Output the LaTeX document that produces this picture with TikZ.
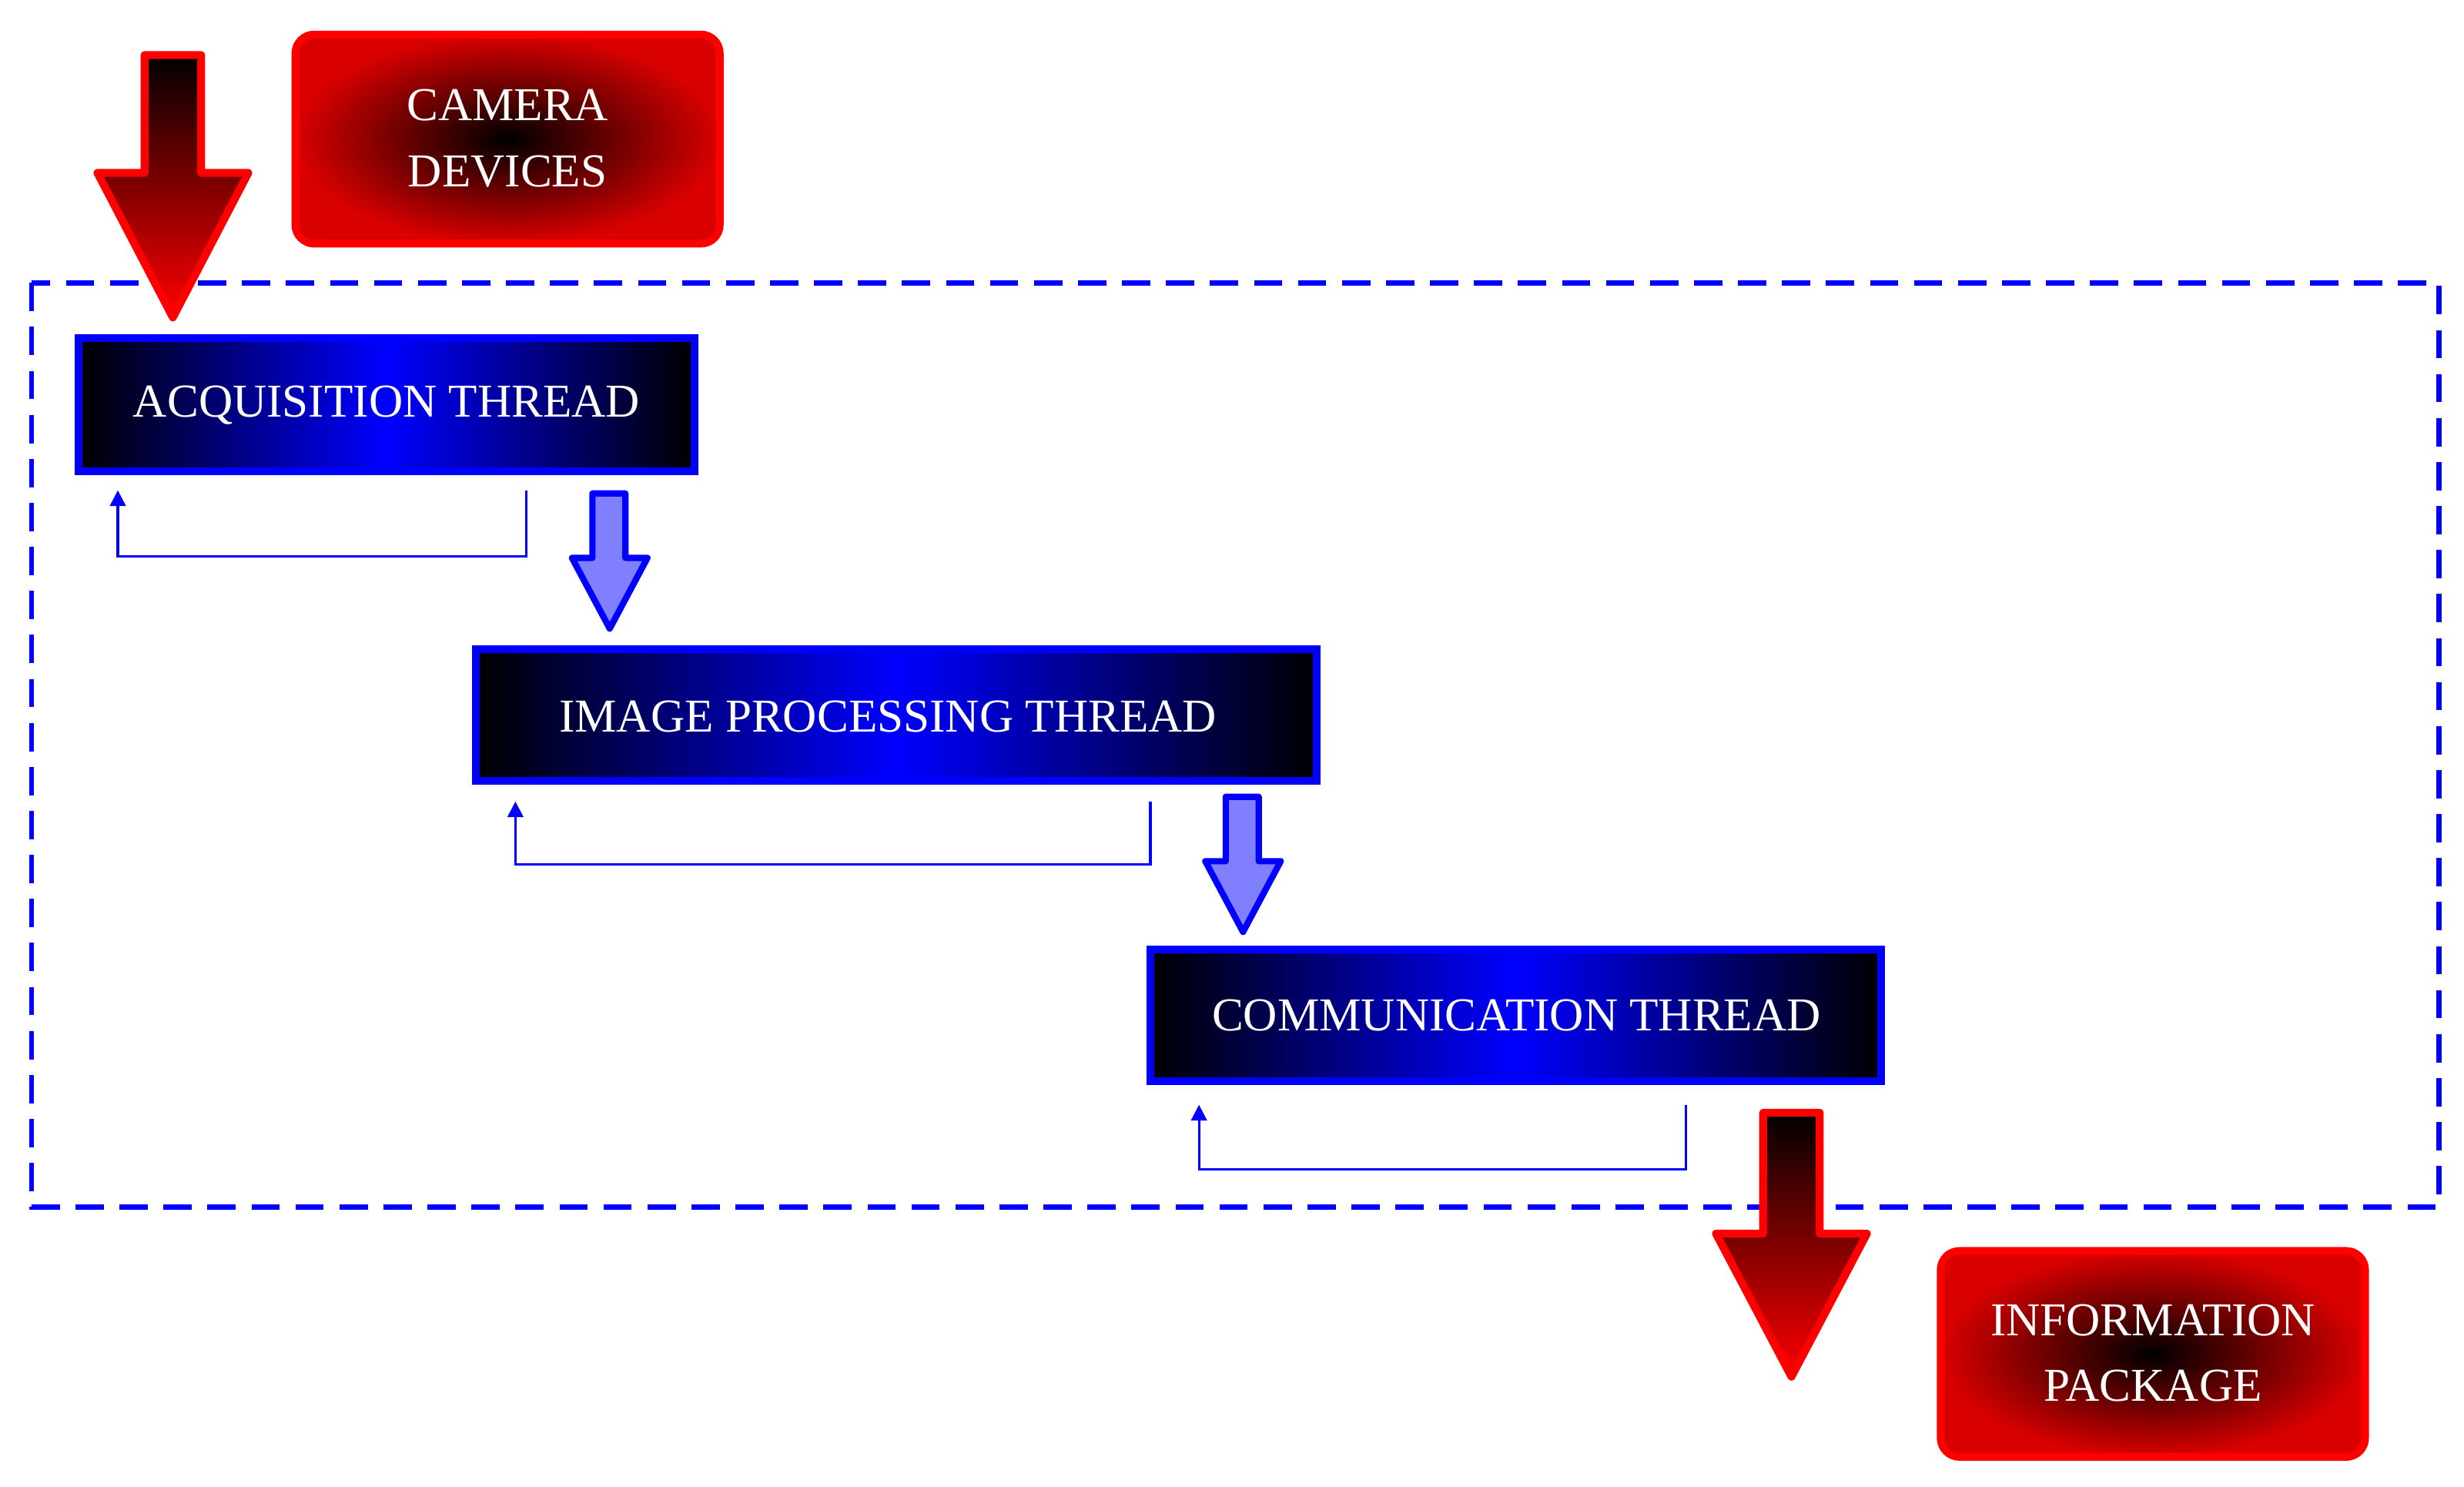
\documentclass[tikz,border=0pt]{standalone}
\usepackage{fontspec}
\setmainfont{Liberation Serif}
\usetikzlibrary{shadings,arrows.meta}
\begin{document}
\begin{tikzpicture}[x=0.5pt,y=-0.5pt,
  redbox/.style={draw=red,line width=2.5pt,rounded corners=6pt,inner color=black,outer color=red!85!black,text=white,align=center,font=\fontsize{15}{21}\selectfont},
  bluebox/.style={draw=blue,line width=2.5pt,left color=black,right color=black,middle color=blue,text=white,font=\fontsize{15}{18}\selectfont},
  fb/.style={draw=blue,line width=0.8pt,-{Triangle[length=5pt,width=5pt]}},
  bluearrow/.style={draw=blue,line width=2pt,fill=blue!50,line join=round},
  redarrow/.style={draw=red,line width=2.5pt,top color=black,bottom color=red,line join=round}]
\useasboundingbox (0,0) rectangle (1568,946);
\draw[blue,line width=1.6pt,dash pattern=on 9pt off 5pt] (20,180) rectangle (1552,768);
\path[redbox] (188,22) rectangle (458,155);
\node[text=white,align=center,font=\fontsize{15}{21}\selectfont] (cam) at (323,88) {CAMERA\\DEVICES};
\path[redbox] (1235,796) rectangle (1505,927);
\node[text=white,align=center,font=\fontsize{15}{21}\selectfont] (info) at (1370,861) {INFORMATION\\PACKAGE};
\path[bluebox] (50,215) rectangle (442,300);
\node[text=white,font=\fontsize{15}{18}\selectfont] (acq) at (246,258) {ACQUISITION THREAD};
\path[bluebox] (303,413) rectangle (838,497);
\node[text=white,font=\fontsize{15}{18}\selectfont] (img) at (565,456) {IMAGE PROCESSING THREAD};
\path[bluebox] (732,604) rectangle (1197,688);
\node[text=white,font=\fontsize{15}{18}\selectfont] (com) at (965,646) {COMMUNICATION THREAD};
\draw[fb] (335,312) -- (335,354) -- (75,354) -- (75,312);
\draw[fb] (732,510) -- (732,550) -- (328,550) -- (328,510);
\draw[fb] (1073,703) -- (1073,744) -- (763,744) -- (763,703);
\path[redarrow] (92,35) -- (128,35) -- (128,110) -- (158,110) -- (110,202) -- (62,110) -- (92,110) -- cycle;
\path[redarrow] (1122,708) -- (1158,708) -- (1158,785) -- (1188,785) -- (1140,876) -- (1092,785) -- (1122,785) -- cycle;
\path[bluearrow] (377,314) -- (398,314) -- (398,355) -- (412,355) -- (388,400) -- (364,355) -- (377,355) -- cycle;
\path[bluearrow] (780,507) -- (801,507) -- (801,548) -- (815,548) -- (791,593) -- (767,548) -- (780,548) -- cycle;
\end{tikzpicture}
\end{document}
